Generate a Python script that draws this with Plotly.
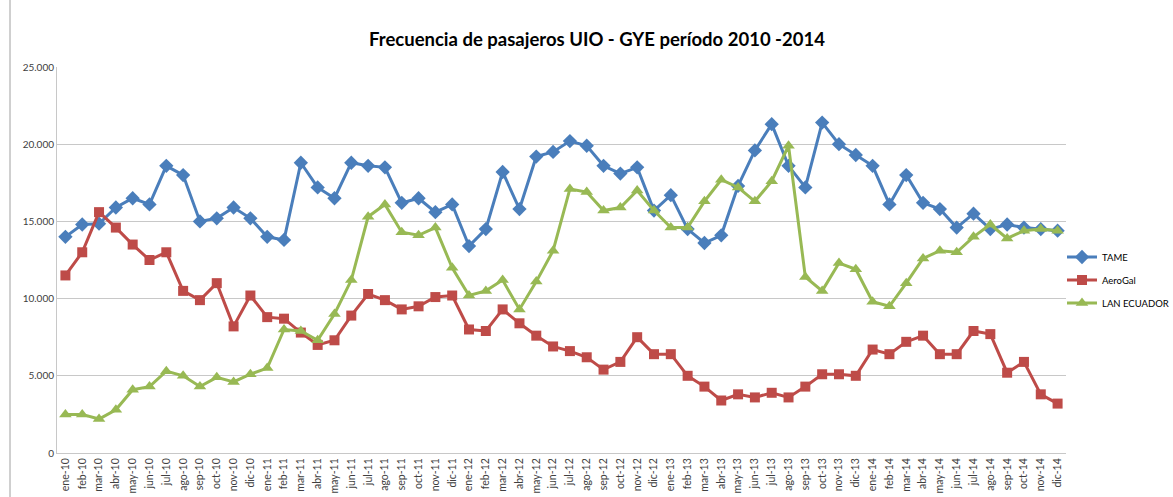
import plotly.graph_objects as go

meses = ["ene", "feb", "mar", "abr", "may", "jun", "jul", "ago", "sep", "oct", "nov", "dic"]
anios = ["10", "11", "12", "13", "14"]
categorias = [f"{m}-{a}" for a in anios for m in meses]

tame = [14000, 14800, 14850, 15900, 16500, 16100, 18600, 18000, 15000, 15200, 15900, 15200,
        14000, 13800, 18800, 17200, 16500, 18800, 18600, 18500, 16200, 16500, 15600, 16100,
        13400, 14500, 18200, 15800, 19200, 19500, 20200, 19900, 18600, 18100, 18500, 15700,
        16700, 14500, 13600, 14100, 17300, 19600, 21300, 18600, 17200, 21400, 20000, 19300,
        18600, 16100, 18000, 16200, 15800, 14600, 15500, 14500, 14800, 14600, 14500, 14400]

aerogal = [11500, 13000, 15600, 14600, 13500, 12500, 13000, 10500, 9900, 11000, 8200, 10200,
           8800, 8700, 7800, 7000, 7300, 8900, 10300, 9900, 9300, 9500, 10100, 10200,
           8000, 7900, 9300, 8400, 7600, 6900, 6600, 6200, 5400, 5900, 7500, 6400,
           6400, 5000, 4300, 3400, 3800, 3600, 3900, 3600, 4300, 5100, 5100, 5000,
           6700, 6400, 7200, 7600, 6400, 6400, 7900, 7700, 5200, 5900, 3800, 3200]

lan = [2500, 2500, 2200, 2800, 4100, 4300, 5300, 5000, 4300, 4900, 4600, 5100,
       5500, 8000, 7900, 7300, 9000, 11200, 15300, 16100, 14300, 14100, 14600, 12000,
       10200, 10500, 11200, 9300, 11100, 13100, 17100, 16900, 15700, 15900, 17000, 15700,
       14600, 14600, 16300, 17700, 17200, 16300, 17600, 19900, 11400, 10500, 12300, 11900,
       9800, 9500, 11000, 12600, 13100, 13000, 14000, 14800, 13900, 14400, 14500, 14400]

series = [
    ("TAME", tame, "#4A7EBB", "diamond", 11),
    ("AeroGal", aerogal, "#BE4B48", "square", 10),
    ("LAN ECUADOR", lan, "#98B954", "triangle-up", 11),
]

fig = go.Figure()
for nombre, valores, color, simbolo, tam in series:
    fig.add_trace(go.Scatter(
        x=categorias, y=valores, name=nombre, mode="lines+markers",
        legendgroup=nombre,
        line=dict(color=color, width=3),
        marker=dict(symbol=simbolo, size=tam, color=color),
    ))

W, H = 1173, 497
L, R, T, B = 57, 107, 67, 44
PW = W - L - R
fig.update_layout(
    width=W, height=H,
    margin=dict(l=L, r=R, t=T, b=B, autoexpand=False),
    paper_bgcolor="white", plot_bgcolor="white",
    separators=",.",
    title=dict(text="<b>Frecuencia de pasajeros UIO - GYE período 2010 -2014</b>",
               x=597 / W, xanchor="center", y=1 - 40 / H, yanchor="middle",
               font=dict(family="Lato", size=18.5, color="#000000")),
    font=dict(family="Lato", size=10, color="#404040"),
    showlegend=True,
    legend=dict(x=(1062 - L) / PW, xanchor="left",
                y=(453 - 280) / 386, yanchor="middle",
                font=dict(family="Lato", size=9.5, color="#000000"),
                bgcolor="rgba(0,0,0,0)", itemwidth=30, tracegroupgap=4),
)
fig.update_xaxes(
    type="category", tickmode="array", tickvals=categorias, ticktext=categorias,
    tickangle=-90, tickfont=dict(size=10.5, color="#404040"),
    showgrid=False, showline=True, linecolor="#C8C8C8", linewidth=1,
    ticks="", automargin=False, range=[-0.5, 59.5],
)
fig.update_yaxes(
    range=[0, 25000], dtick=5000, tickformat=",d",
    showgrid=True, gridcolor="#C8C8C8", gridwidth=1,
    zeroline=False, showline=True, linecolor="#C8C8C8", linewidth=1,
    ticks="", automargin=False,
    tickfont=dict(size=10, color="#404040"),
)
fig.add_shape(type="line", xref="paper", yref="paper",
              x0=(10 - L) / PW, x1=(10 - L) / PW, y0=-1, y1=2,
              line=dict(color="#A0A0A0", width=1))
fig.write_html(
    "out.html",
    config={"displayModeBar": False},
    post_script="document.body.style.margin='0';document.body.style.overflow='hidden';",
)
